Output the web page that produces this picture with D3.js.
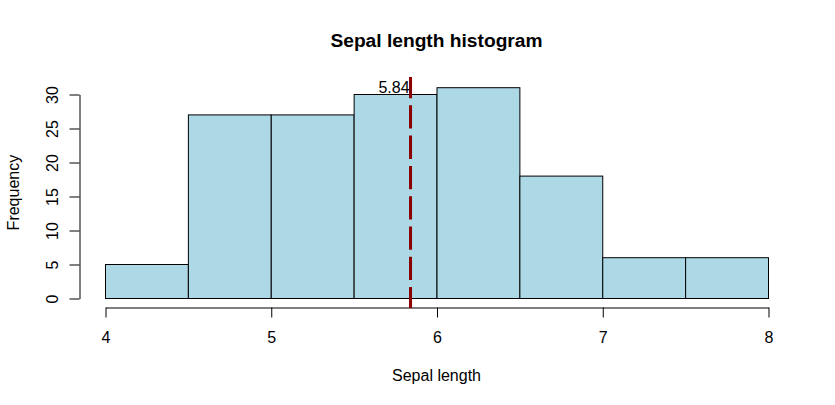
<!DOCTYPE html>
<html>
<head>
<meta charset="utf-8">
<script src="https://cdn.jsdelivr.net/npm/d3@7"></script>
<style>
  html, body { margin: 0; padding: 0; background: #fff; }
  svg { display: block; }
  text { font-family: "Liberation Sans", Arial, Helvetica, sans-serif; fill: #000; }
</style>
</head>
<body>
<svg id="chart" width="835" height="405"></svg>
<script>
// Data
const binEdges = [4, 4.5, 5, 5.5, 6, 6.5, 7, 7.5, 8];
const counts = [5, 27, 27, 30, 31, 18, 6, 6];
const xTicks = [4, 5, 6, 7, 8];
const yTicks = [0, 5, 10, 15, 20, 25, 30];
const meanValue = 5.843333;
const meanLabel = "5.84";
const title = "Sepal length histogram";
const xLabel = "Sepal length";
const yLabel = "Frequency";

const svg = d3.select("#chart");
const x = d3.scaleLinear().domain([4, 8]).range([105, 768]);
const y = d3.scaleLinear().domain([0, 30]).range([298, 94]);

// Bars
const bins = counts.map((c, i) => ({ x0: binEdges[i], x1: binEdges[i + 1], n: c }));
svg.append("g").selectAll("rect").data(bins).join("rect")
  .attr("x", d => x(d.x0) + 0.5)
  .attr("y", d => y(d.n) + 0.5)
  .attr("width", d => x(d.x1) - x(d.x0))
  .attr("height", d => y(0) - y(d.n))
  .attr("fill", "#ADD8E6")
  .attr("stroke", "#000")
  .attr("stroke-width", 1);

// Y axis
const yAxis = svg.append("g").attr("transform", "translate(79.5,0.5)")
  .call(d3.axisLeft(y).tickValues(yTicks).tickSize(10).tickSizeOuter(0).tickFormat(d3.format("d")));
yAxis.selectAll("path, line").attr("stroke", "#000");
yAxis.selectAll(".tick text")
  .attr("transform", "rotate(-90)")
  .attr("x", 0).attr("y", -27).attr("dy", "0.35em")
  .attr("text-anchor", "middle")
  .style("font-size", "16px")
  .style("font-family", "'Liberation Sans', Arial, sans-serif");

// X axis
const xAxis = svg.append("g").attr("transform", "translate(0.5,307.5)")
  .call(d3.axisBottom(x).tickValues(xTicks).tickSize(10).tickSizeOuter(0).tickFormat(d3.format("d")));
xAxis.selectAll("path, line").attr("stroke", "#000");
xAxis.selectAll(".tick text")
  .attr("y", 30).attr("dy", "0.35em")
  .style("font-size", "16px")
  .style("font-family", "'Liberation Sans', Arial, sans-serif");

// Mean line (dashed, dark red)
svg.append("line")
  .attr("x1", x(meanValue)).attr("x2", x(meanValue))
  .attr("y1", y(32.5)).attr("y2", y(-1.47))
  .attr("stroke", "#8B0000")
  .attr("stroke-width", 3)
  .attr("stroke-dasharray", "23.3,7")
  .attr("stroke-dashoffset", 2);

svg.append("text")
  .attr("x", x(meanValue) - 1).attr("y", y(31))
  .attr("dy", "0.35em")
  .attr("text-anchor", "end")
  .style("font-size", "16px")
  .text(meanLabel);

// Title & labels
svg.append("text")
  .attr("x", (x(4) + x(8)) / 2).attr("y", 40).attr("dy", "0.35em")
  .attr("text-anchor", "middle")
  .style("font-size", "19.2px").style("font-weight", "bold")
  .text(title);

svg.append("text")
  .attr("x", (x(4) + x(8)) / 2).attr("y", 375).attr("dy", "0.35em")
  .attr("text-anchor", "middle")
  .style("font-size", "16px")
  .text(xLabel);

svg.append("text")
  .attr("transform", `translate(13,${(y(-1.24) + y(32.24)) / 2}) rotate(-90)`)
  .attr("dy", "0.35em")
  .attr("text-anchor", "middle")
  .style("font-size", "16px")
  .text(yLabel);
</script>
</body>
</html>
